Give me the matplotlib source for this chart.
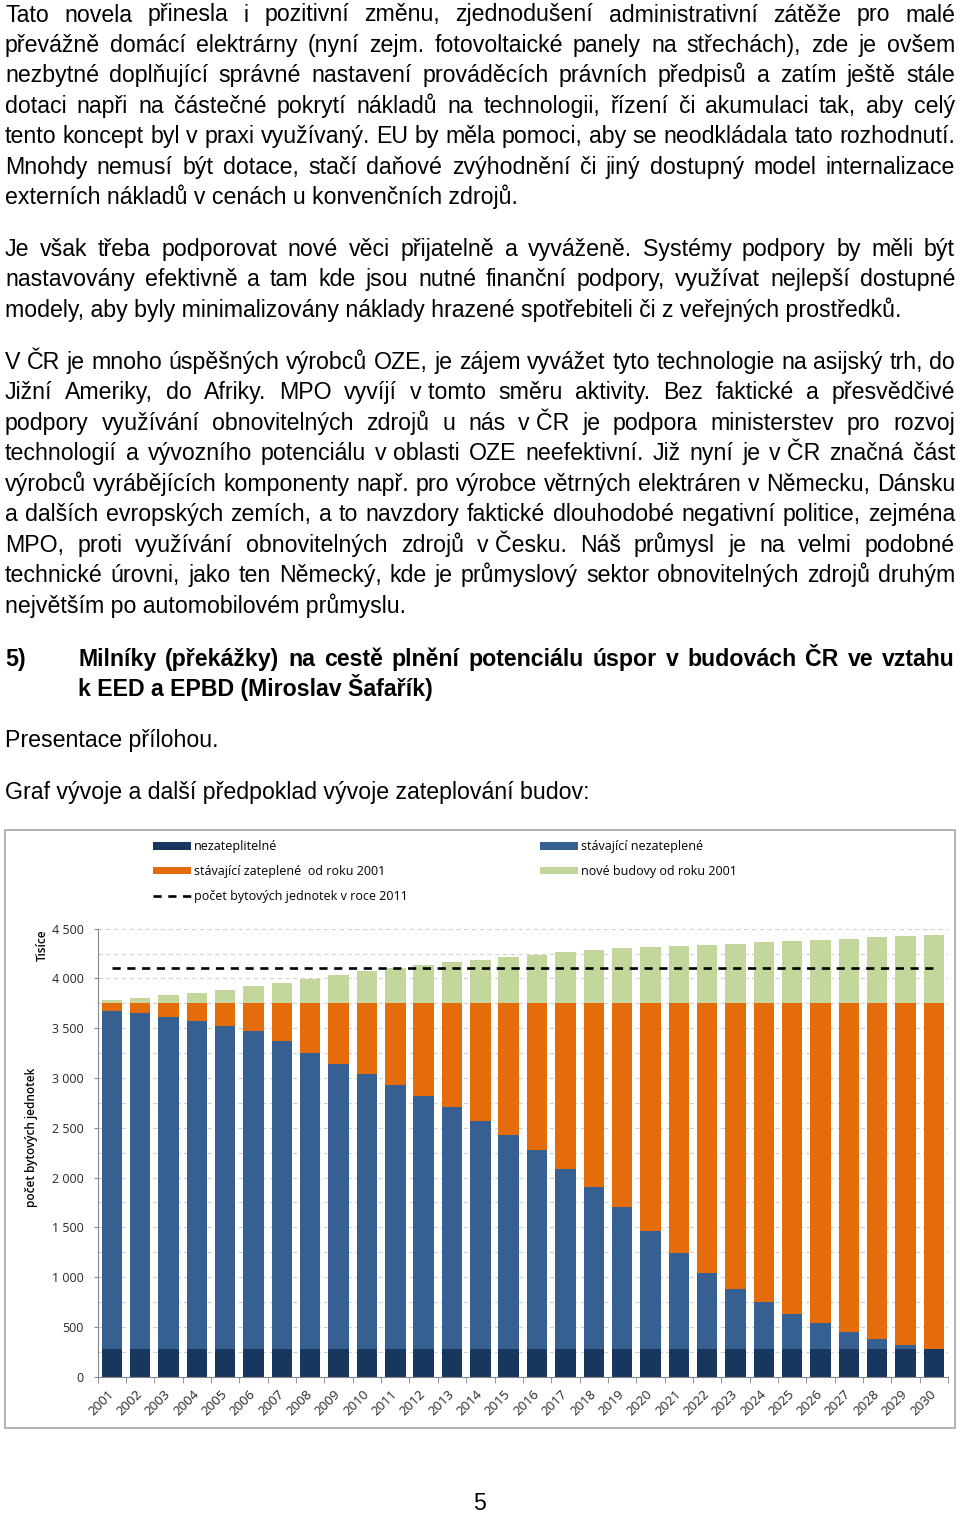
import matplotlib
matplotlib.use("Agg")
import matplotlib.pyplot as plt
from matplotlib.patches import Rectangle
import numpy as np

# chart data (tisíce bytových jednotek)
years = [str(y) for y in range(2001, 2031)]
nezateplitelne = [275, 275, 275, 275, 275, 275, 275, 275, 275, 275,
                  275, 275, 275, 275, 275, 275, 275, 275, 275, 275,
                  275, 275, 275, 275, 275, 275, 275, 275, 275, 275]
stavajici_nezateplene = [3398, 3374, 3334, 3298, 3247, 3193, 3093, 2977, 2869, 2762,
                         2655, 2544, 2430, 2295, 2151, 1998, 1814, 1630, 1425, 1191,
                         963, 769, 602, 471, 355, 260, 174, 106, 46, 0]
stavajici_zateplene = [82, 106, 146, 182, 233, 287, 387, 503, 611, 718,
                       825, 936, 1050, 1185, 1329, 1482, 1666, 1850, 2055, 2289,
                       2517, 2711, 2878, 3009, 3125, 3220, 3306, 3374, 3434, 3480]
nove_budovy = [25, 49, 77, 103, 133, 173, 200, 243, 277, 317,
               353, 381, 411, 431, 461, 478, 508, 534, 548, 558,
               575, 585, 595, 615, 622, 632, 645, 662, 669, 679]
pocet_2011 = [4110] * 30

# page text
par1 = ["Tato novela přinesla i pozitivní změnu, zjednodušení administrativní zátěže pro malé",
        "převážně domácí elektrárny (nyní zejm. fotovoltaické panely na střechách), zde je ovšem",
        "nezbytné doplňující správné nastavení prováděcích právních předpisů a zatím ještě stále",
        "dotaci napři na částečné pokrytí nákladů na technologii, řízení či akumulaci tak, aby celý",
        "tento koncept byl v praxi využívaný. EU by měla pomoci, aby se neodkládala tato rozhodnutí.",
        "Mnohdy nemusí být dotace, stačí daňové zvýhodnění či jiný dostupný model internalizace",
        "externích nákladů v cenách u konvenčních zdrojů."]
par2 = ["Je však třeba podporovat nové věci přijatelně a vyváženě. Systémy podpory by měli být",
        "nastavovány efektivně a tam kde jsou nutné finanční podpory, využívat nejlepší dostupné",
        "modely, aby byly minimalizovány náklady hrazené spotřebiteli či z veřejných prostředků."]
par3 = ["V ČR je mnoho úspěšných výrobců OZE, je zájem vyvážet tyto technologie na asijský trh, do",
        "Jižní Ameriky, do Afriky. MPO vyvíjí v\u00a0tomto směru aktivity. Bez faktické a přesvědčivé",
        "podpory využívání obnovitelných zdrojů u nás v\u00a0ČR je podpora ministerstev pro rozvoj",
        "technologií a vývozního potenciálu v\u00a0oblasti OZE neefektivní. Již nyní je v\u00a0ČR značná část",
        "výrobců vyrábějících komponenty např. pro výrobce větrných elektráren v Německu, Dánsku",
        "a dalších evropských zemích, a to navzdory faktické dlouhodobé negativní politice, zejména",
        "MPO, proti využívání obnovitelných zdrojů v\u00a0Česku. Náš průmysl je na velmi podobné",
        "technické úrovni, jako ten Německý, kde je průmyslový sektor obnovitelných zdrojů druhým",
        "největším po automobilovém průmyslu."]
heading = ["Milníky (překážky) na cestě plnění potenciálu úspor v budovách ČR ve vztahu",
           "k EED a EPBD (Miroslav Šafařík)"]

W, H = 960, 1513
fig = plt.figure(figsize=(9.6, 15.13), dpi=100)
renderer = fig.canvas.get_renderer()


def fx(x):
    return x / W


def fy(y):
    return 1 - y / H


BODY = dict(family="Liberation Sans", size=16.7, color="black")


def line(text, x0, y, x1=None, **kw):
    props = dict(BODY)
    props.update(kw)
    if x1 is None:
        fig.text(fx(x0), fy(y), text, va="baseline", ha="left", **props)
        return
    words = text.split(" ")
    arts = [fig.text(0, 0, w, va="baseline", ha="left", **props) for w in words]
    widths = [a.get_window_extent(renderer).width for a in arts]
    gap = (x1 - x0 - sum(widths)) / (len(words) - 1)
    x = x0
    for a, w in zip(arts, widths):
        a.set_position((fx(x), fy(y)))
        x += w + gap


def paragraph(lines, y0, x0=5, x1=955, step=30.45, **kw):
    for i, t in enumerate(lines):
        last = i == len(lines) - 1
        line(t, x0, y0 + i * step, None if last else x1, **kw)


paragraph(par1, 21.5)
paragraph(par2, 256)
paragraph(par3, 369)
line("5)", 5, 665.5, weight="bold")
paragraph(heading, 665.5, x0=78, weight="bold")
line("Presentace přílohou.", 5, 747.5)
line("Graf vývoje a další předpoklad vývoje zateplování budov:", 5, 799.5)
fig.text(fx(480), fy(1510), "5", ha="center", va="baseline", **BODY)

# chart frame
fig.add_artist(Rectangle((fx(5), fy(1428)), fx(950), (1428 - 830) / H,
                         transform=fig.transFigure, fill=False,
                         ec="#A6A6A6", lw=1.2))

navy, blue, orange, green = "#17375E", "#376092", "#E46C0A", "#C3D69B"
CF = "Open Sans"

ax = fig.add_axes([fx(97.7), fy(1376.7), (948 - 97.7) / W, (1376.7 - 928.7) / H])
x = np.arange(len(years))
n1 = np.array(nezateplitelne)
n2 = np.array(stavajici_nezateplene)
n3 = np.array(stavajici_zateplene)
n4 = np.array(nove_budovy)
bw = 0.72
h1 = ax.bar(x, n1, width=bw, color=navy, zorder=2)
h2 = ax.bar(x, n2, width=bw, bottom=n1, color=blue, zorder=2)
h3 = ax.bar(x, n3, width=bw, bottom=n1 + n2, color=orange, zorder=2)
h4 = ax.bar(x, n4, width=bw, bottom=n1 + n2 + n3, color=green, zorder=2)
hl, = ax.plot(x, pocet_2011, color="black", lw=1.9, ls=(0, (3.1, 2.5)), zorder=3)

ax.set_xlim(-0.5, len(years) - 0.5)
ax.set_ylim(0, 4500)
ax.set_yticks(np.arange(0, 4501, 500))
ax.set_yticks(np.arange(250, 4500, 500), minor=True)
ax.set_yticklabels([f"{v:,}".replace(",", " ") for v in range(0, 4501, 500)],
                   family=CF, fontsize=9, color="#262626")
ax.tick_params(axis="y", which="major", length=3, color="#868686", pad=7)
ax.tick_params(axis="y", which="minor", length=0)
ax.grid(axis="y", which="both", ls=(0, (4, 3)), color="#D0D0D0", lw=0.8, zorder=0)

ax.set_xticks(x)
ax.set_xticklabels(years, rotation=45, ha="right", va="center",
                   rotation_mode="anchor", family=CF, fontsize=9.5, color="#262626")
ax.set_xticks(np.arange(-0.5, len(years)), minor=True)
ax.tick_params(axis="x", which="major", length=0, pad=11)
ax.tick_params(axis="x", which="minor", length=4, color="#868686")
for s in ["top", "right"]:
    ax.spines[s].set_visible(False)
for s in ["left", "bottom"]:
    ax.spines[s].set_color("#868686")

fig.text(fx(42), fy(945), "Tisíce", rotation=90, ha="center", va="center",
         family=CF, fontsize=8.5, weight="semibold")
fig.text(fx(32), fy(1137), "počet bytových jednotek", rotation=90, ha="center",
         va="center", family=CF, fontsize=8.5, weight="semibold")

leg_kw = dict(loc="upper left", frameon=False, borderaxespad=0, borderpad=0,
              handlelength=3.0, handleheight=0.6, handletextpad=0.3,
              labelspacing=0.95, prop=dict(family=CF, size=9),
              bbox_transform=fig.transFigure)
leg1 = ax.legend([h1, h3, hl],
                 ["nezateplitelné", "stávající zateplené  od roku 2001",
                  "počet bytových jednotek v roce 2011"],
                 bbox_to_anchor=(fx(153), fy(840)), **leg_kw)
ax.add_artist(leg1)
ax.legend([h2, h4], ["stávající nezateplené", "nové budovy od roku 2001"],
          bbox_to_anchor=(fx(540), fy(840)), **leg_kw)

fig.savefig("out.png", dpi=100)
